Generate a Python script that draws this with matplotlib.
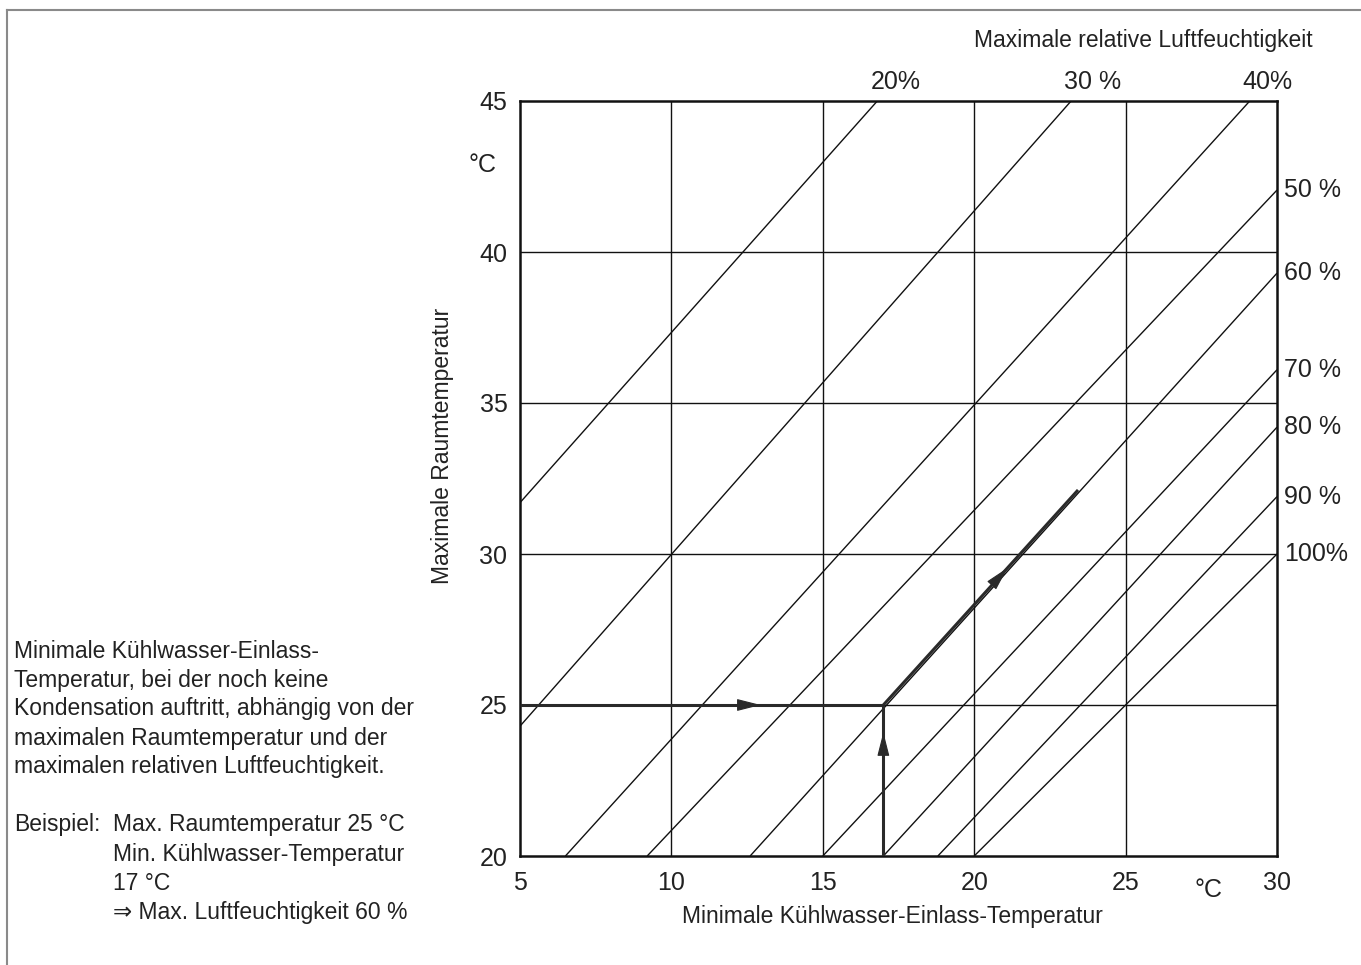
import matplotlib
matplotlib.use("Agg")
import matplotlib.pyplot as plt
import numpy as np

# ── Chart data ────────────────────────────────────────────────────────────────
rh_labels = ["20%", "30 %", "40%", "50 %", "60 %", "70 %", "80 %", "90 %", "100%"]
# each humidity line: start point (x0, y0) and end point (x1, y1) in °C
line_x0 = [5.0, 5.0, 6.5, 9.2, 12.6, 15.0, 17.0, 18.8, 20.0]
line_y0 = [31.7, 24.3, 20.0, 20.0, 20.0, 20.0, 20.0, 20.0, 20.0]
line_x1 = [16.8, 23.2, 29.1, 30.0, 30.0, 30.0, 30.0, 30.0, 30.0]
line_y1 = [45.0, 45.0, 45.0, 42.05, 39.3, 36.1, 34.2, 31.9, 30.0]

x_ticks = [5, 10, 15, 20, 25, 30]
y_ticks = [20, 25, 30, 35, 40, 45]

# example path segments: room 25 °C -> water 17 °C -> along 60 % line
seg_x = [(5.0, 17.0), (17.0, 17.0), (17.0, 23.43)]
seg_y = [(25.0, 25.0), (20.0, 25.0), (25.0, 32.12)]
arrow_tip_x = [12.95, 17.0, 21.1]   # one arrowhead per segment
arrow_tip_y_vert = 24.1

description = [
    "Minimale Kühlwasser-Einlass-",
    "Temperatur, bei der noch keine",
    "Kondensation auftritt, abhängig von der",
    "maximalen Raumtemperatur und der",
    "maximalen relativen Luftfeuchtigkeit.",
]
example_lines = [
    "Max. Raumtemperatur 25 °C",
    "Min. Kühlwasser-Temperatur",
    "17 °C",
    "\u21d2 Max. Luftfeuchtigkeit 60 %",
]

FONT = ["Liberation Sans", "DejaVu Sans"]
TXT = "#222222"
FS = 16.5      # body text
FS_AX = 18     # tick labels, % labels, units
PATH_C = "#2a2a2a"

plt.rcParams["font.family"] = FONT

W, H = 1361, 965
fig = plt.figure(figsize=(W / 100, H / 100), dpi=100)


def fx(px):
    return px / W


def fy(py):
    return 1 - py / H


ax = fig.add_axes([fx(520), fy(856), fx(1277) - fx(520), fy(101) - fy(856)])
ax.set_xlim(5, 30)
ax.set_ylim(20, 45)

# grid
for xv in x_ticks[1:-1]:
    ax.axvline(xv, color="#111111", lw=1.0, zorder=1)
for yv in y_ticks[1:-1]:
    ax.axhline(yv, color="#111111", lw=1.0, zorder=1)

# humidity lines
for x0, y0, x1, y1 in zip(line_x0, line_y0, line_x1, line_y1):
    ax.plot([x0, x1], [y0, y1], color="#111111", lw=1.0, zorder=2,
            solid_capstyle="butt")

# humidity labels: top edge for the first three, right edge for the rest
for lab, x1, y1 in zip(rh_labels, line_x1, line_y1):
    if y1 >= 45:
        ax.annotate(lab, xy=(x1, y1), xytext=(-5, 5), textcoords="offset points",
                    ha="left", va="bottom", fontsize=FS_AX, color=TXT,
                    annotation_clip=False)
    else:
        ax.annotate(lab, xy=(x1, y1), xytext=(5, 0), textcoords="offset points",
                    ha="left", va="center", fontsize=FS_AX, color=TXT,
                    annotation_clip=False)

# example path with arrowheads
for (xa, xb), (ya, yb), tx in zip(seg_x, seg_y, arrow_tip_x):
    ax.plot([xa, xb], [ya, yb], color=PATH_C, lw=2.2, zorder=3,
            solid_capstyle="butt")
    d = np.array([xb - xa, yb - ya])
    d = d / np.hypot(*d)
    if xb != xa:
        ty = ya + (tx - xa) * (yb - ya) / (xb - xa)
    else:
        ty = arrow_tip_y_vert
    ax.annotate("", xy=(tx, ty), xytext=(tx - 0.05 * d[0], ty - 0.05 * d[1]),
                arrowprops=dict(arrowstyle="-|>,head_length=1.5,head_width=0.38",
                                color=PATH_C, lw=0.8, shrinkA=0, shrinkB=0),
                zorder=4)

ax.set_xticks(x_ticks)
ax.set_yticks(y_ticks)
ax.tick_params(length=0, labelsize=FS_AX, labelcolor=TXT)
ax.tick_params(axis="x", pad=11)
ax.tick_params(axis="y", pad=9)
for sp in ax.spines.values():
    sp.set_linewidth(1.8)
    sp.set_color("#111111")

# axis titles and units
fig.text(fx(1143), fy(40), "Maximale relative Luftfeuchtigkeit", ha="center",
         va="center", fontsize=FS, color=TXT)
fig.text(fx(443), fy(446), "Maximale Raumtemperatur", rotation=90, ha="center",
         va="center", fontsize=FS, color=TXT)
fig.text(fx(892), fy(917), "Minimale Kühlwasser-Einlass-Temperatur", ha="center",
         va="center", fontsize=FS, color=TXT)
fig.text(fx(482), fy(165), "°C", ha="center", va="center", fontsize=FS_AX, color=TXT)
fig.text(fx(1208), fy(890), "°C", ha="center", va="center", fontsize=FS_AX, color=TXT)

# description block
for i, line in enumerate(description):
    fig.text(fx(14), fy(651 + 29 * i), line, ha="left", va="center",
             fontsize=FS, color=TXT)
fig.text(fx(14), fy(825), "Beispiel:", ha="left", va="center", fontsize=FS, color=TXT)
for i, line in enumerate(example_lines):
    fig.text(fx(113), fy(825 + 29 * i), line, ha="left", va="center",
             fontsize=FS, color=TXT)

# page frame (top and left)
fig.add_artist(plt.Line2D([fx(7), 1], [fy(10), fy(10)], color="#8a8a8a", lw=1.5))
fig.add_artist(plt.Line2D([fx(7), fx(7)], [fy(10), 0], color="#8a8a8a", lw=1.5))

fig.savefig("out.png", dpi=100)
